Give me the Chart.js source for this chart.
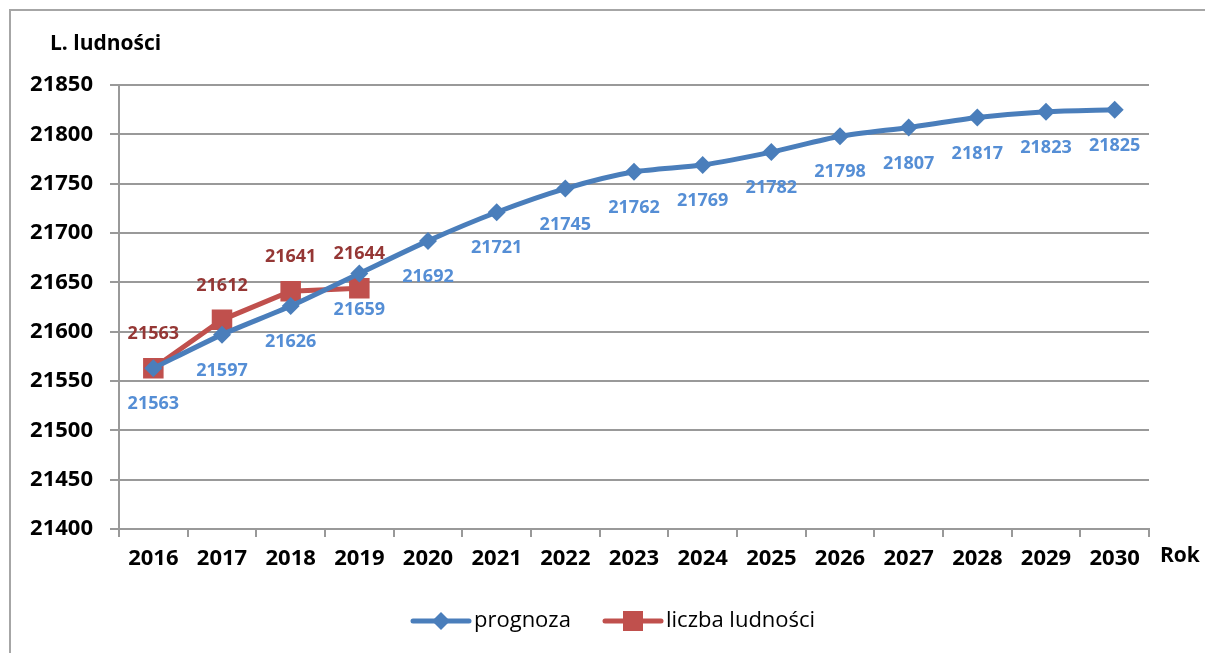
<!doctype html>
<html lang="pl">
<head>
    <meta charset="utf-8">
    <title>Prognoza liczby ludności</title>
    <script src="https://cdn.jsdelivr.net/npm/chart.js"></script>
    <style>
        body { margin: 0; background: #fff; overflow: hidden; }
        .frame {
            position: absolute;
            left: 9px;
            top: 9px;
            width: 1300px;
            height: 800px;
            border: 2px solid #a6a6a6;
            box-sizing: border-box;
        }
        #wykres { position: absolute; left: 0; top: 0; }
    </style>
</head>
<body>
<div class="frame"></div>
<canvas id="wykres" width="1205" height="653"></canvas>

<script>
    const lata = ['2016', '2017', '2018', '2019', '2020', '2021', '2022', '2023',
        '2024', '2025', '2026', '2027', '2028', '2029', '2030'];
    const prognoza = [21563, 21597, 21626, 21659, 21692, 21721, 21745, 21762,
        21769, 21782, 21798, 21807, 21817, 21823, 21825];
    const liczbaLudnosci = [21563, 21612, 21641, 21644, null, null, null, null,
        null, null, null, null, null, null, null];

    const FONT = '"Open Sans", Lato, sans-serif';
    const niebieski = '#4a7ebb';
    const czerwony = '#c0504d';

    // etykiety wartości nad/pod punktami
    const etykiety = {
        id: 'etykiety',
        afterDatasetsDraw(chart) {
            const ctx = chart.ctx;
            ctx.save();
            ctx.font = 'bold 18px ' + FONT;
            ctx.textAlign = 'center';
            ctx.textBaseline = 'middle';
            chart.data.datasets.forEach((ds, i) => {
                const meta = chart.getDatasetMeta(i);
                meta.data.forEach((pt, j) => {
                    const v = ds.data[j];
                    if (v == null) return;
                    ctx.fillStyle = ds.labelColor;
                    ctx.fillText(String(v), pt.x, pt.y + ds.labelOffset);
                });
            });
            ctx.restore();
        }
    };

    // tytuły osi i legenda pod wykresem
    const opisy = {
        id: 'opisy',
        afterDraw(chart) {
            const ctx = chart.ctx;
            ctx.save();
            ctx.fillStyle = '#000';
            ctx.font = 'bold 21px ' + FONT;
            ctx.textBaseline = 'middle';
            ctx.textAlign = 'left';
            ctx.fillText('L. ludności', 50, 44);
            ctx.fillText('Rok', 1160, 556);

            // legenda
            const pozycje = [413, 605];
            ctx.font = '22px ' + FONT;
            chart.data.datasets.forEach((ds, i) => {
                const x0 = pozycje[i];
                const y = 621;
                ctx.strokeStyle = ds.borderColor;
                ctx.lineWidth = 5;
                ctx.lineCap = 'round';
                ctx.beginPath();
                ctx.moveTo(x0, y);
                ctx.lineTo(x0 + 56, y);
                ctx.stroke();
                ctx.fillStyle = ds.backgroundColor;
                const cx = x0 + 28;
                if (ds.pointStyle === 'rectRot') {
                    ctx.beginPath();
                    ctx.moveTo(cx, y - 9);
                    ctx.lineTo(cx + 9, y);
                    ctx.lineTo(cx, y + 9);
                    ctx.lineTo(cx - 9, y);
                    ctx.closePath();
                    ctx.fill();
                } else {
                    ctx.fillRect(cx - 10, y - 10, 20, 20);
                }
                ctx.fillStyle = '#000';
                ctx.fillText(ds.label, x0 + 61, y);
            });
            ctx.restore();
        }
    };

    new Chart(document.getElementById('wykres'), {
        type: 'line',
        data: {
            labels: lata,
            datasets: [{
                label: 'prognoza',
                data: prognoza,
                borderColor: niebieski,
                backgroundColor: niebieski,
                borderWidth: 5,
                tension: 0.25,
                pointStyle: 'rectRot',
                pointRadius: 9,
                pointBorderWidth: 0,
                labelColor: '#558ed5',
                labelOffset: 36
            }, {
                label: 'liczba ludności',
                data: liczbaLudnosci,
                borderColor: czerwony,
                backgroundColor: czerwony,
                borderWidth: 5,
                tension: 0,
                pointStyle: 'rect',
                pointRadius: 14.5,
                pointBorderWidth: 0,
                labelColor: '#953735',
                labelOffset: -34
            }]
        },
        options: {
            responsive: false,
            animation: false,
            layout: { padding: { left: 0, top: 85, right: 56, bottom: 74 } },
            plugins: {
                legend: { display: false },
                tooltip: { enabled: false }
            },
            scales: {
                x: {
                    offset: true,
                    grid: {
                        offset: true,
                        drawOnChartArea: false,
                        color: '#999',
                        lineWidth: 2,
                        tickLength: 8
                    },
                    border: { color: '#999', width: 2 },
                    ticks: {
                        color: '#000',
                        font: { family: FONT, size: 22, weight: 'bold' },
                        padding: 9,
                        maxRotation: 0
                    },
                    afterFit(scale) { scale.height = 50; }
                },
                y: {
                    min: 21400,
                    max: 21850,
                    grid: {
                        color: '#999',
                        lineWidth: 2,
                        tickLength: 9
                    },
                    border: { color: '#999', width: 2 },
                    ticks: {
                        stepSize: 50,
                        color: '#000',
                        font: { family: FONT, size: 22, weight: 'bold' },
                        padding: 17,
                        callback: (v) => String(v)
                    },
                    afterFit(scale) { scale.width = 119; }
                }
            }
        },
        plugins: [etykiety, opisy]
    });
</script>
</body>
</html>
